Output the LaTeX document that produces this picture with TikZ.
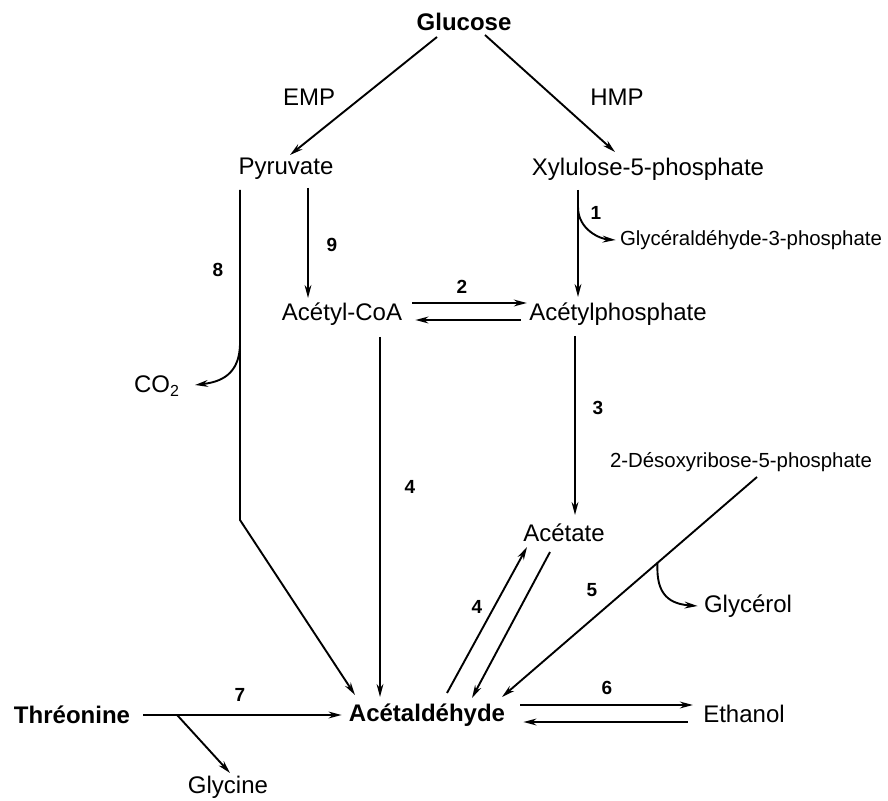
\documentclass[tikz,border=0pt]{standalone}
\usepackage{fontspec}
\setmainfont{Liberation Sans}
\usetikzlibrary{arrows.meta,calc}
\tikzset{
	cmpd/.style={inner sep=0pt, font=\fontsize{12}{14}\selectfont},
	key/.style={inner sep=0pt, font=\bfseries\fontsize{12}{14}\selectfont},
	small/.style={inner sep=0pt, font=\fontsize{10.2}{12}\selectfont},
	num/.style={inner sep=0pt, font=\bfseries\fontsize{9.5}{11}\selectfont},
	rxn/.style={draw, line width=0.95pt, -{Stealth[length=6.5pt,width=3.4pt]}},
	seg/.style={draw, line width=0.95pt}
}

\begin{document}
\begin{tikzpicture}[x=0.5pt, y=-0.5pt]
	\useasboundingbox (0,0) rectangle (888,801);

	\node[key] (glc) at (464,22) {Glucose};
	\node[cmpd] (emp) at (309,97) {EMP};
	\node[cmpd] (hmp) at (617,97) {HMP};
	\node[cmpd] (pyr) at (286,169) {Pyruvate};
	\node[cmpd] (xyl) at (648,169) {Xylulose-5-phosphate};
	\node[small] (gap) at (751,240) {Glycéraldéhyde-3-phosphate};
	\node[cmpd] (acoa) at (342,314) {Acétyl-CoA};
	\node[cmpd] (acp) at (618,314) {Acétylphosphate};
	\node[cmpd] (co2) at (157,386) {CO\textsubscript{2}};
	\node[small] (dxr) at (741,462) {2-Désoxyribose-5-phosphate};
	\node[cmpd] (act) at (564,533) {Acétate};
	\node[cmpd] (gly) at (748,606) {Glycérol};
	\node[key] (thr) at (72,715) {Thréonine};
	\node[key] (ald) at (427,715) {Acétaldéhyde};
	\node[cmpd] (eth) at (744,714) {Ethanol};
	\node[cmpd] (gcn) at (228,787) {Glycine};

	\node[num] (n1) at (596,213) {1};
	\node[num] (n2) at (462,287) {2};
	\node[num] (n3) at (598,408) {3};
	\node[num] (n4a) at (410,487) {4};
	\node[num] (n4b) at (477,607) {4};
	\node[num] (n5) at (592,590) {5};
	\node[num] (n6) at (607,688) {6};
	\node[num] (n7) at (240,695) {7};
	\node[num] (n8) at (218,270) {8};
	\node[num] (n9) at (332,245) {9};

	\coordinate (k8) at (240,520);
	\coordinate (b8) at (240,343);
	\coordinate (b1) at (578,207);

	\draw[rxn] ($(glc)+(-27,15)$) -- ($(pyr)+(4,-14)$);
	\draw[rxn] ($(glc)+(21,13)$) -- ($(xyl)+(-33,-17)$);
	\draw[rxn] ($(pyr)+(22,19)$) -- ($(acoa)+(-34,-16)$);
	\draw[rxn] ($(pyr)+(-46,21)$) -- (k8) -- ($(ald)+(-72,-20)$);
	\draw[rxn] (b8) .. controls +(0,32) and +(25,-3) .. ($(co2)+(38,-1)$);
	\draw[rxn] ($(xyl)+(-70,21)$) -- ($(acp)+(-40,-17)$);
	\draw[rxn] (b1) .. controls +(0,23) and +(-15,-1) .. ($(gap.west)+(-4,0)$);
	\draw[rxn] ($(acoa.east)+(10,-11)$) -- ($(acp.west)+(-2,-11)$);
	\draw[rxn] ($(acp.west)+(-8,6)$) -- ($(acoa.east)+(13,6)$);
	\draw[rxn] ($(acoa)+(38,23)$) -- ($(ald)+(-47,-18)$);
	\draw[rxn] ($(acp)+(-43,22)$) -- ($(act)+(11,-18)$);
	\draw[rxn] ($(ald)+(20,-22)$) -- ($(act)+(-37,14)$);
	\draw[rxn] ($(act)+(-14,19)$) -- ($(ald)+(45,-17)$);
	\draw[rxn] ($(dxr)+(16,15)$) -- coordinate[pos=0.39] (b5) ($(ald)+(75,-18)$);
	\draw[rxn] (b5) .. controls +(-2,33) and +(-27,-2) .. ($(gly.west)+(-6,0)$);
	\draw[rxn] ($(ald.east)+(15,-10)$) -- ($(eth.west)+(-10,-9)$);
	\draw[rxn] ($(eth.west)+(-15,8)$) -- ($(ald.east)+(18,7)$);
	\draw[rxn] ($(thr.east)+(13,0)$) -- coordinate[pos=0.17] (b7) ($(ald.west)+(-7,0)$);
	\draw[rxn] (b7) -- ($(gcn)+(2,-14)$);
\end{tikzpicture}
\end{document}
